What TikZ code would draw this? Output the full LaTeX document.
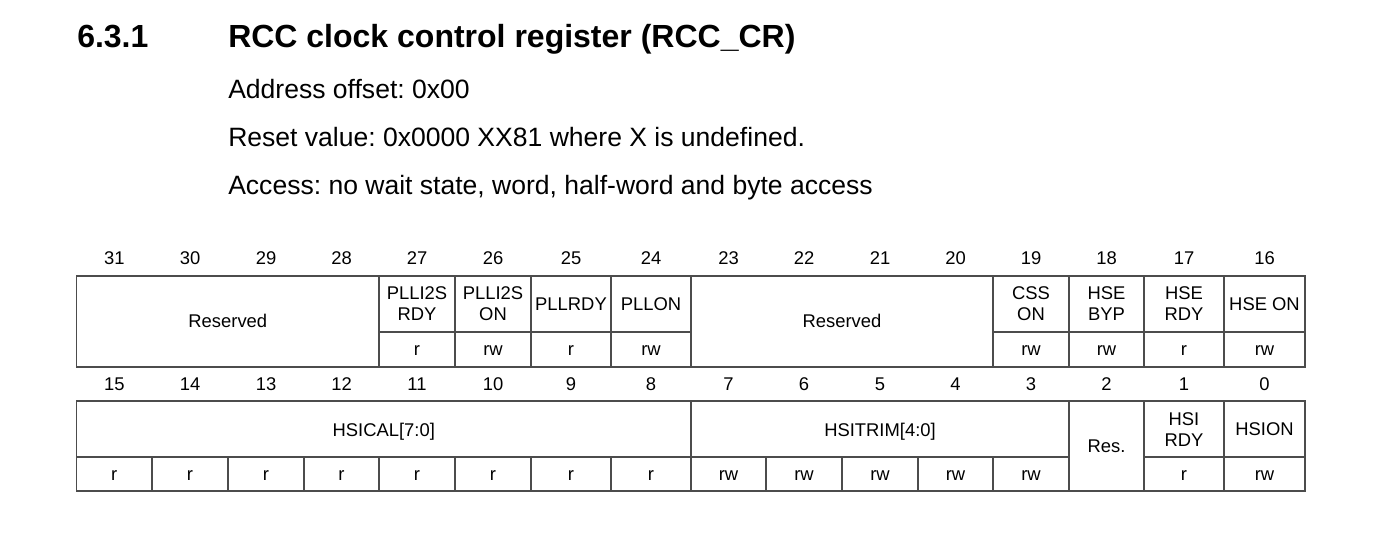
\documentclass[tikz,border=0pt]{standalone}
\usepackage{fontspec}
\setmainfont{Liberation Sans}
\frenchspacing
\begin{document}
\frenchspacing
\begin{tikzpicture}[x=0.75pt,y=-0.75pt,
  grid/.style={draw=black!70, line width=1.05pt},
  cell/.style={font=\fontsize{13.8}{15.5}\selectfont, inner sep=0pt, anchor=base},
  cell2/.style={font=\fontsize{13.8}{15.5}\selectfont, inner sep=0pt, anchor=north, align=center},
  bitnum/.style={font=\fontsize{13.8}{15.5}\selectfont, inner sep=0pt, anchor=base},
  body/.style={font=\fontsize{19.9}{24}\selectfont\frenchspacing, anchor=base west, inner sep=0pt},
  heading/.style={font=\fontsize{24}{28}\selectfont\bfseries, anchor=base west, inner sep=0pt}]
\useasboundingbox (0,0) rectangle (1394,532);

% header
\node[heading] (num) at (77,47.3) {6.3.1};
\node[heading] (ttl) at (228,47.3) {RCC clock control register (RCC\_CR)};
\node[body] (addr) at (228,98.3) {Address offset: 0x00};
\node[body] (rst) at (228,146.3) {Reset value: 0x0000 XX81 where X is undefined.};
\node[body] (acc) at (228,194.3) {Access: no wait state, word, half-word and byte access};

% bit numbers
\foreach \c/\n in {114.3/31,190/30,266/29,341.5/28,417/27,493/26,571/25,651/24,728.5/23,804/22,880/21,955.5/20,1031/19,1106.5/18,1184/17,1264.5/16}
  \node[bitnum] (b\n) at (\c,264) {\n};
\foreach \c/\n in {114.3/15,190/14,266/13,341.5/12,417/11,493/10,571/9,651/8,728.5/7,804/6,880/5,955.5/4,1031/3,1106.5/2,1184/1,1264.5/0}
  \node[bitnum] (b\n) at (\c,390) {\n};

% row 1 grid
\draw[grid] (76.6,276) rectangle (1305,367);
\foreach \x in {379,455,531,611,691,993,1069,1144,1224}
  \draw[grid] (\x,276) -- (\x,367);
\draw[grid] (379,332) -- (691,332);
\draw[grid] (993,332) -- (1305,332);

% row 2 grid
\draw[grid] (76.6,401) rectangle (1305,491);
\draw[grid] (76.6,457) -- (1069,457);
\draw[grid] (1144,457) -- (1305,457);
\foreach \x in {152,228,304,379,455,531,611,766,842,918,993}
  \draw[grid] (\x,457) -- (\x,491);
\foreach \x in {691,1069,1144,1224}
  \draw[grid] (\x,401) -- (\x,491);

% row 1 labels
\node[cell] (res1) at (227.8,327.3) {Reserved};
\node[cell2] (f27) at (417,286.7) {PLLI2S\\RDY};
\node[cell2] (f26) at (493,286.7) {PLLI2S\\ON};
\node[cell] (f25) at (571,310) {PLLRDY};
\node[cell] (f24) at (651,310) {PLLON};
\node[cell] (res2) at (842,327.3) {Reserved};
\node[cell2] (f19) at (1031,286.7) {CSS\\ON};
\node[cell2] (f18) at (1106.5,286.7) {HSE\\BYP};
\node[cell2] (f17) at (1184,286.7) {HSE\\RDY};
\node[cell] (f16) at (1264.5,310) {HSE ON};
\foreach \c/\n/\t in {417/27/r,493/26/rw,571/25/r,651/24/rw,1031/19/rw,1106.5/18/rw,1184/17/r,1264.5/16/rw}
  \node[cell] (a\n) at (\c,355) {\t};

% row 2 labels
\node[cell] (hsical) at (383.8,436.7) {HSICAL[7:0]};
\node[cell] (hsitrim) at (880,436.7) {HSITRIM[4:0]};
\node[cell] (res3) at (1106.5,452.3) {Res.};
\node[cell2] (f1) at (1184,412.3) {HSI\\RDY};
\node[cell] (f0) at (1264.5,435) {HSION};
\foreach \c/\n/\t in {114.3/15/r,190/14/r,266/13/r,341.5/12/r,417/11/r,493/10/r,571/9/r,651/8/r,728.5/7/rw,804/6/rw,880/5/rw,955.5/4/rw,1031/3/rw,1184/1/r,1264.5/0/rw}
  \node[cell] (a\n) at (\c,480) {\t};
\end{tikzpicture}
\end{document}
